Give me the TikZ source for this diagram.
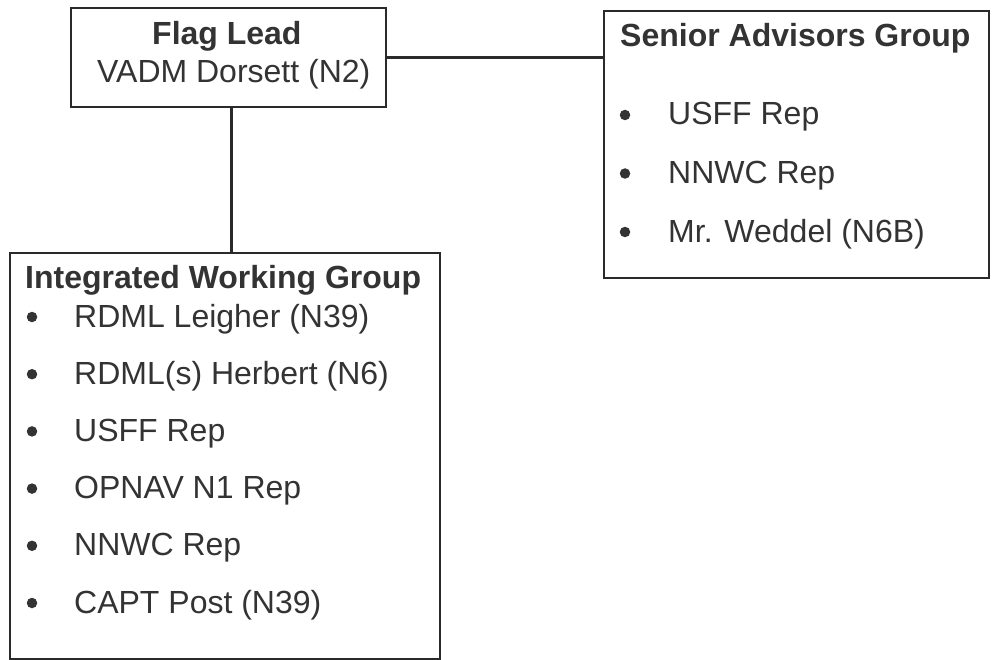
\documentclass[tikz,border=0pt]{standalone}
\usepackage{fontspec}
\setmainfont{Liberation Sans}
\definecolor{ink}{HTML}{333333}
\definecolor{edge}{HTML}{2A2A2A}
\begin{document}
\begin{tikzpicture}[x=1pt,y=-1pt,
  box/.style={draw=edge, line width=2pt, rectangle, inner sep=0pt, anchor=north west},
  txt/.style={text=ink, inner sep=0pt, anchor=base west, font=\fontsize{32}{38}\selectfont},
  ttl/.style={txt, font=\fontsize{32}{38}\selectfont\bfseries},
  dotmark/.style={circle, fill=ink, inner sep=0pt, minimum size=10.5pt},
  link/.style={draw=edge, line width=3pt}]
\useasboundingbox (0,0) rectangle (992,660);
% boxes
\node[box, minimum width=315pt, minimum height=99pt] (flag) at (70,7) {};
\node[box, minimum width=385pt, minimum height=267pt] (senior) at (603,10) {};
\node[box, minimum width=430pt, minimum height=406pt] (iwg) at (9,252) {};
% connectors
\draw[link] (flag.east) -- (flag.east -| senior.west);
\draw[link] ([xshift=2.5pt]flag.south) -- ([xshift=2.5pt]flag.south |- iwg.north);
% flag lead text
\node[ttl] (flagt) at (152,45) {Flag Lead};
\node[txt] (flagn) at (97,83) {VADM Dorsett (N2)};
% senior advisors
\node[ttl] (sent) at (620,47) {Senior Advisors Group};
\foreach \i/\t in {0/USFF Rep, 1/NNWC Rep, 2/Mr. Weddel (N6B)}{
  \node[dotmark] (sb\i) at (625,{125+58.5*\i-10}) {};
  \node[txt] (st\i) at (668,{125+58.5*\i}) {\t};
}
% integrated working group
\node[ttl] (iwgt) at (25,288) {Integrated Working Group};
\foreach \i/\t in {0/RDML Leigher (N39), 1/RDML(s) Herbert (N6), 2/USFF Rep, 3/OPNAV N1 Rep, 4/NNWC Rep, 5/CAPT Post (N39)}{
  \node[dotmark] (ib\i) at (32,{327+57.2*\i-10}) {};
  \node[txt] (it\i) at (74,{327+57.2*\i}) {\t};
}
\end{tikzpicture}
\end{document}
